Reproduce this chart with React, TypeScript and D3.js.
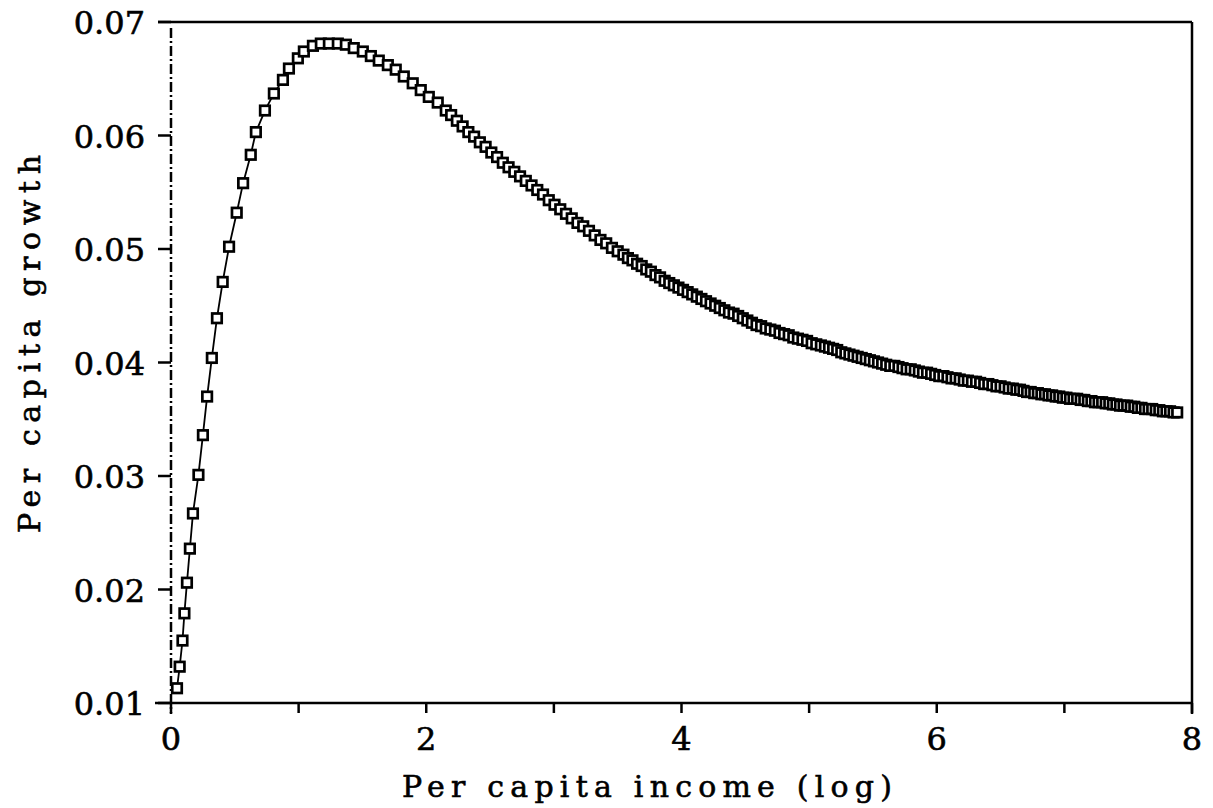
import React from 'react';
import * as d3 from 'd3';

// log per capita income (x) and per capita growth (y)
const incomeLog = [
  0.047, 0.068, 0.090, 0.105, 0.125, 0.148, 0.172, 0.215, 0.250, 0.283, 0.320, 0.360, 0.405, 0.455, 0.515, 0.565, 0.625,
  0.665, 0.736, 0.806, 0.877, 0.924, 0.994, 1.041, 1.112, 1.174, 1.237, 1.307, 1.370, 1.432, 1.503, 1.566, 1.628,
  1.699, 1.761, 1.824, 1.894, 1.957, 2.020, 2.090, 2.153,
  2.195, 2.240, 2.285, 2.330, 2.375, 2.420, 2.465, 2.510, 2.555, 2.600, 2.645, 2.690, 2.735, 2.780, 2.825, 2.870,
  2.915, 2.960, 3.005, 3.050, 3.095, 3.140, 3.185, 3.230, 3.275, 3.320, 3.365, 3.410, 3.455, 3.500, 3.545,
  3.580, 3.616, 3.652, 3.688, 3.724, 3.760, 3.796, 3.832, 3.868, 3.904, 3.940, 3.976, 4.012, 4.048, 4.084, 4.120,
  4.156, 4.192, 4.228, 4.264, 4.300, 4.336, 4.372, 4.408, 4.444, 4.480, 4.516, 4.552, 4.588, 4.624, 4.660, 4.696,
  4.732, 4.768, 4.804, 4.840, 4.876, 4.912, 4.948, 4.984, 5.020, 5.056, 5.092,
  5.124, 5.156, 5.188, 5.220, 5.252, 5.284, 5.316, 5.348, 5.380, 5.412, 5.444, 5.476, 5.508, 5.540, 5.572, 5.604,
  5.636, 5.668, 5.700, 5.732, 5.764, 5.796, 5.828, 5.860, 5.892, 5.924, 5.956, 5.988, 6.020, 6.052, 6.084, 6.116,
  6.148, 6.180, 6.212, 6.244, 6.276, 6.308, 6.340, 6.372, 6.404, 6.436, 6.468, 6.500, 6.532, 6.564, 6.596,
  6.624, 6.652, 6.680, 6.708, 6.736, 6.764, 6.792, 6.820, 6.848, 6.876, 6.904, 6.932, 6.960, 6.988, 7.016, 7.044,
  7.072, 7.100, 7.128, 7.156, 7.184, 7.212, 7.240, 7.268, 7.296, 7.324, 7.352, 7.380, 7.408, 7.436, 7.464, 7.492,
  7.520, 7.548, 7.576, 7.604, 7.632, 7.660, 7.688, 7.716, 7.744, 7.772, 7.800, 7.828, 7.856, 7.884,
];

const growth = [
  0.0113, 0.0132, 0.0155, 0.0179, 0.0206, 0.0236, 0.0267, 0.0301, 0.0336, 0.0370, 0.0404, 0.0439, 0.0471, 0.0502, 0.0532, 0.0558, 0.0583,
  0.0603, 0.0622, 0.0637, 0.0649, 0.0659, 0.0668, 0.0674, 0.0679, 0.0681, 0.0681, 0.0681, 0.0680, 0.0677, 0.0674, 0.0670, 0.0666,
  0.0662, 0.0658, 0.0652, 0.0646, 0.0640, 0.0634, 0.0629, 0.0622,
  0.0618, 0.0613, 0.0608, 0.0603, 0.0599, 0.0594, 0.0590, 0.0585, 0.0581, 0.0576, 0.0572, 0.0568, 0.0564, 0.0560, 0.0556, 0.0552,
  0.0548, 0.0543, 0.0539, 0.0535, 0.0531, 0.0527, 0.0523, 0.0520, 0.0516, 0.0512, 0.0508, 0.0505, 0.0501, 0.0498, 0.0495,
  0.0492, 0.0490, 0.0487, 0.0485, 0.0482, 0.0480, 0.0477, 0.0475, 0.0472, 0.0470, 0.0468, 0.0466, 0.0464, 0.0462, 0.0460, 0.0458,
  0.0456, 0.0454, 0.0452, 0.0450, 0.0448, 0.0446, 0.0444, 0.0443, 0.0441, 0.0439, 0.0437, 0.0435, 0.0433, 0.0432, 0.0430, 0.0429,
  0.0428, 0.0426, 0.0425, 0.0424, 0.0422, 0.0421, 0.0420, 0.0419, 0.0417, 0.0416, 0.0415,
  0.0414, 0.0413, 0.0412, 0.0411, 0.0409, 0.0408, 0.0407, 0.0406, 0.0405, 0.0404, 0.0403, 0.0402, 0.0401, 0.0400, 0.0399, 0.0398,
  0.0397, 0.0397, 0.0396, 0.0395, 0.0394, 0.0394, 0.0393, 0.0392, 0.0391, 0.0391, 0.0390, 0.0389, 0.0388, 0.0388, 0.0387, 0.0386,
  0.0386, 0.0385, 0.0384, 0.0384, 0.0383, 0.0383, 0.0382, 0.0381, 0.0381, 0.0380, 0.0379, 0.0379, 0.0378, 0.0377, 0.0377,
  0.0376, 0.0376, 0.0375, 0.0374, 0.0374, 0.0373, 0.0373, 0.0372, 0.0372, 0.0371, 0.0371, 0.0370, 0.0370, 0.0369, 0.0369, 0.0368,
  0.0368, 0.0368, 0.0367, 0.0367, 0.0366, 0.0366, 0.0365, 0.0365, 0.0365, 0.0364, 0.0364, 0.0363, 0.0363, 0.0362, 0.0362, 0.0362,
  0.0361, 0.0361, 0.0360, 0.0360, 0.0359, 0.0359, 0.0359, 0.0358, 0.0358, 0.0357, 0.0357, 0.0357, 0.0356, 0.0356,
];

const xTicks = [0, 1, 2, 3, 4, 5, 6, 7, 8];
const xTickLabels = [0, 2, 4, 6, 8];
const yTicks = [0.01, 0.02, 0.03, 0.04, 0.05, 0.06, 0.07];

const W = 1213, H = 808;
const font = '"DejaVu Serif", serif';

const App = () => {
  const x = d3.scaleLinear().domain([0, 8]).range([171, 1192]);
  const y = d3.scaleLinear().domain([0.01, 0.07]).range([703, 22]);

  const pts = incomeLog.map((v, i) => [v, growth[i]] as [number, number]);
  const line = d3.line<[number, number]>().x(d => x(d[0])).y(d => y(d[1]));
  const sq = 9.5;
  const txt = { fontFamily: font, fill: '#000', stroke: '#000', strokeWidth: 0.6 };

  return (
    <svg width={W} height={H} style={{ position: 'absolute', left: 0, top: 0, background: '#fff' }}>
      {/* frame */}
      <line x1={158} x2={1192} y1={y(0.07)} y2={y(0.07)} stroke="#000" strokeWidth={2.5} />
      <line x1={155} x2={1192} y1={y(0.01)} y2={y(0.01)} stroke="#000" strokeWidth={2.5} />
      <line x1={1192} x2={1192} y1={y(0.07)} y2={714} stroke="#000" strokeWidth={2.5} />
      <line x1={171} x2={171} y1={28} y2={714} stroke="#000" strokeWidth={2.5} strokeDasharray="10 3 2 3" />

      {/* y ticks + labels */}
      {yTicks.map(t => (
        <g key={t}>
          <line x1={158} x2={171} y1={y(t)} y2={y(t)} stroke="#000" strokeWidth={2.5} />
          <text x={145} y={y(t) + 12} textAnchor="end" fontSize={32} {...txt}>
            {t.toFixed(2)}
          </text>
        </g>
      ))}

      {/* x ticks + labels */}
      {xTicks.map(t => (
        <line key={t} x1={x(t)} x2={x(t)} y1={703} y2={713} stroke="#000" strokeWidth={2.5} />
      ))}
      {xTickLabels.map(t => (
        <text key={t} x={x(t)} y={750} textAnchor="middle" fontSize={32} {...txt}>
          {t}
        </text>
      ))}

      {/* axis titles */}
      <text x={647} y={797} textAnchor="middle" fontSize={30} textLength={490} lengthAdjust="spacing" {...txt}>
        Per capita income (log)
      </text>
      <text transform="translate(40,344) rotate(-90)" textAnchor="middle" fontSize={30}
        textLength={378} lengthAdjust="spacing" {...txt}>
        Per capita growth
      </text>

      {/* series */}
      <path d={line(pts) ?? ''} fill="none" stroke="#000" strokeWidth={1.8} />
      {pts.map((d, i) => (
        <rect key={i} x={x(d[0]) - sq / 2} y={y(d[1]) - sq / 2} width={sq} height={sq}
          fill="#fff" stroke="#000" strokeWidth={2.7} />
      ))}
    </svg>
  );
};

export default App;
